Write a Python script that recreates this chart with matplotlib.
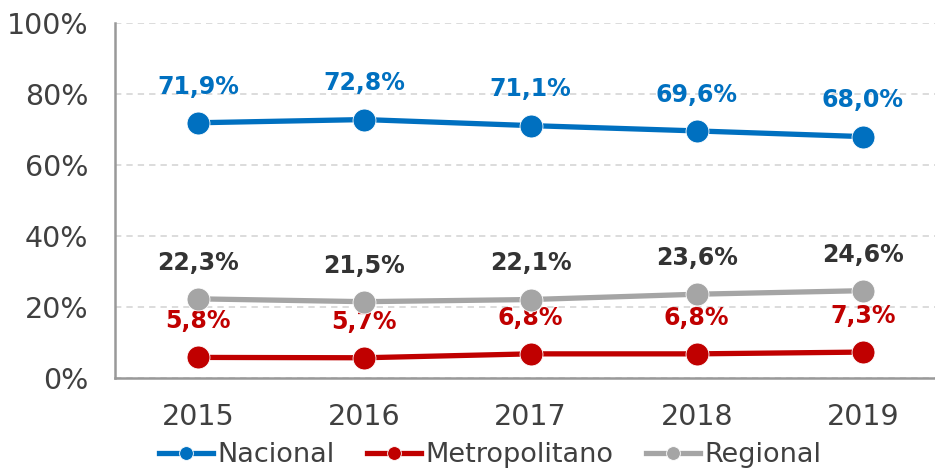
import matplotlib.pyplot as plt
from matplotlib.ticker import FuncFormatter

anos = ['2015', '2016', '2017', '2018', '2019']
nacional = [71.9, 72.8, 71.1, 69.6, 68.0]
metropolitano = [5.8, 5.7, 6.8, 6.8, 7.3]
regional = [22.3, 21.5, 22.1, 23.6, 24.6]

AZUL = '#0070C0'
VERMELHO = '#C00000'
CINZA = '#A5A5A5'

plt.rcParams['font.family'] = ['DejaVu Sans']

fig = plt.figure(figsize=(9.35, 4.70), dpi=100)
ax = fig.add_axes([115 / 935, 1 - 378 / 470, (946 - 115) / 935, (378 - 23) / 470])

x = list(range(len(anos)))
series = [
    ('Nacional', nacional, AZUL, AZUL),
    ('Metropolitano', metropolitano, VERMELHO, VERMELHO),
    ('Regional', regional, CINZA, '#333333'),
]
for nome, vals, cor, cor_txt in series:
    ax.plot(x, vals, color=cor, lw=3.8, marker='o', ms=16.5,
            markeredgecolor='white', markeredgewidth=0.6, label=nome, zorder=3)
    for xi, v in zip(x, vals):
        ax.annotate(f'{v:.1f}%'.replace('.', ','), (xi, v), xytext=(0, 26),
                    textcoords='offset points', ha='center', va='center',
                    fontsize=17, fontweight='bold', color=cor_txt)

ax.set_xlim(-0.5, 4.5)
ax.set_ylim(0, 100)
ax.set_yticks([0, 20, 40, 60, 80, 100])
ax.yaxis.set_major_formatter(FuncFormatter(lambda v, p: f'{v:.0f}%'))
ax.set_xticks(x)
ax.set_xticklabels(anos)
ax.tick_params(length=0, labelsize=20.5, colors='#404040')
ax.tick_params(axis='y', pad=19)
ax.tick_params(axis='x', pad=18)
ax.grid(axis='y', color='#D9D9D9', linestyle=(0, (3.5, 2.8)), lw=1.3)
ax.set_axisbelow(True)
for s in ['top', 'right']:
    ax.spines[s].set_visible(False)
for s in ['left', 'bottom']:
    ax.spines[s].set_color('#999999')
    ax.spines[s].set_linewidth(1.8)

fig.legend(loc='center', bbox_to_anchor=(490 / 935, 1 - 455 / 470), ncol=3,
           frameon=False, fontsize=19.5, handlelength=2.0, handletextpad=0.15,
           columnspacing=1.2, markerscale=0.6, labelcolor='#404040')

plt.savefig('out.png', dpi=100)
